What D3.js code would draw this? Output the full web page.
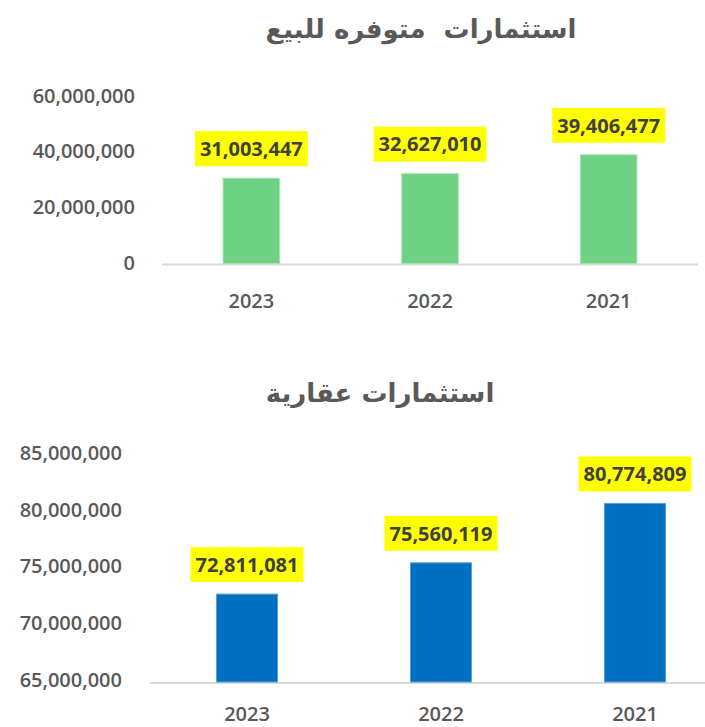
<!DOCTYPE html>
<html>
<head>
<meta charset="utf-8">
<script src="https://cdn.jsdelivr.net/npm/d3@7"></script>
<style>
  html, body { margin: 0; padding: 0; background: #fff; }
  svg { display: block; }
</style>
</head>
<body>
<svg id="chart" width="705" height="727"></svg>
<script>
// ---- Data ----
const years = ["2023", "2022", "2021"];
const availableForSale = [31003447, 32627010, 39406477];
const realEstate = [72811081, 75560119, 80774809];
const topTicks = [0, 20000000, 40000000, 60000000];
const bottomTicks = [65000000, 70000000, 75000000, 80000000, 85000000];
const topTitle = "استثمارات  متوفره للبيع";
const bottomTitle = "استثمارات عقارية";

const svg = d3.select("#chart");
const fmt = d3.format(",");
const numFont = "'Open Sans', 'Noto Sans', sans-serif";

function drawChart(cfg) {
  const g = svg.append("g");
  const x = d3.scaleBand().domain(years).range(cfg.xRange).padding(0);
  const y = d3.scaleLinear().domain(cfg.yDomain).range(cfg.yRange);
  const barW = x.bandwidth() * cfg.barFrac;

  // title
  g.append("text")
    .attr("x", cfg.titleX).attr("y", cfg.titleY)
    .attr("text-anchor", "middle")
    .attr("direction", "rtl")
    .attr("xml:space", "preserve")
    .style("white-space", "pre")
    .style("font-family", "'DejaVu Sans', sans-serif")
    .style("font-weight", 700)
    .style("font-size", "26px")
    .style("fill", "#595959")
    .text(cfg.title);

  // y axis
  const yAxis = d3.axisLeft(y).tickValues(cfg.ticks).tickSize(0).tickFormat(fmt);
  const ya = g.append("g").attr("transform", `translate(${cfg.yLabelX},${cfg.yLabelShift})`).call(yAxis);
  ya.select(".domain").remove();
  ya.selectAll("text")
    .attr("x", 0).attr("dy", "0.36em")
    .style("font-family", numFont).style("font-weight", 600)
    .style("font-size", "20px").style("fill", "#595959");

  // baseline
  g.append("line")
    .attr("x1", cfg.xRange[0]).attr("x2", cfg.lineEnd)
    .attr("y1", y(cfg.yDomain[0])).attr("y2", y(cfg.yDomain[0]))
    .attr("stroke", "#d9d9d9").attr("stroke-width", 2);

  // bars
  g.selectAll("rect.bar").data(cfg.values).join("rect")
    .attr("class", "bar")
    .attr("x", (d, i) => x(years[i]) + x.bandwidth() / 2 - barW / 2)
    .attr("width", barW)
    .attr("y", d => y(d))
    .attr("height", d => y(cfg.yDomain[0]) - y(d) - 1)
    .attr("fill", cfg.color)
    .attr("stroke", cfg.edge).attr("stroke-width", 1);

  // x axis labels
  const xAxis = d3.axisBottom(x).tickSize(0);
  const xa = g.append("g").attr("transform", `translate(0,${cfg.xLabelY})`).call(xAxis);
  xa.select(".domain").remove();
  xa.selectAll("text")
    .attr("y", 0).attr("dy", "0.36em")
    .style("font-family", numFont).style("font-weight", 600)
    .style("font-size", "20px").style("fill", "#595959");

  // data labels with yellow boxes
  const lab = g.selectAll("g.lab").data(cfg.values).join("g").attr("class", "lab");
  lab.each(function(d, i) {
    const cx = x(years[i]) + x.bandwidth() / 2;
    const boxBottom = y(d) - 12;
    const boxH = 35;
    const cy = boxBottom - boxH / 2;
    const sel = d3.select(this);
    const rect = sel.append("rect").attr("fill", "#ffff00");
    const t = sel.append("text")
      .attr("x", cx).attr("y", cy).attr("dy", "0.36em")
      .attr("text-anchor", "middle")
      .style("font-family", numFont).style("font-weight", 700)
      .style("font-size", "20px").style("fill", "#404040")
      .text(fmt(d));
    const w = t.node().getComputedTextLength();
    rect.attr("x", cx - w / 2 - 5).attr("width", w + 10)
      .attr("y", boxBottom - boxH).attr("height", boxH);
  });
}

drawChart({
  title: topTitle, titleX: 421, titleY: 38,
  values: availableForSale,
  yDomain: [0, 60000000], yRange: [264.5, 97.5], ticks: topTicks,
  xRange: [162, 698], lineEnd: 698, barFrac: 0.316,
  yLabelX: 135, yLabelShift: -2.5, xLabelY: 300.5,
  color: "#6fd183", edge: "#a3e2b0"
});

drawChart({
  title: bottomTitle, titleX: 380, titleY: 402,
  values: realEstate,
  yDomain: [65000000, 85000000], yRange: [683, 455.4], ticks: bottomTicks,
  xRange: [150, 732], lineEnd: 705, barFrac: 0.314,
  yLabelX: 122, yLabelShift: -3.5, xLabelY: 714,
  color: "#0070c0", edge: "#5b9bd5"
});
</script>
</body>
</html>
